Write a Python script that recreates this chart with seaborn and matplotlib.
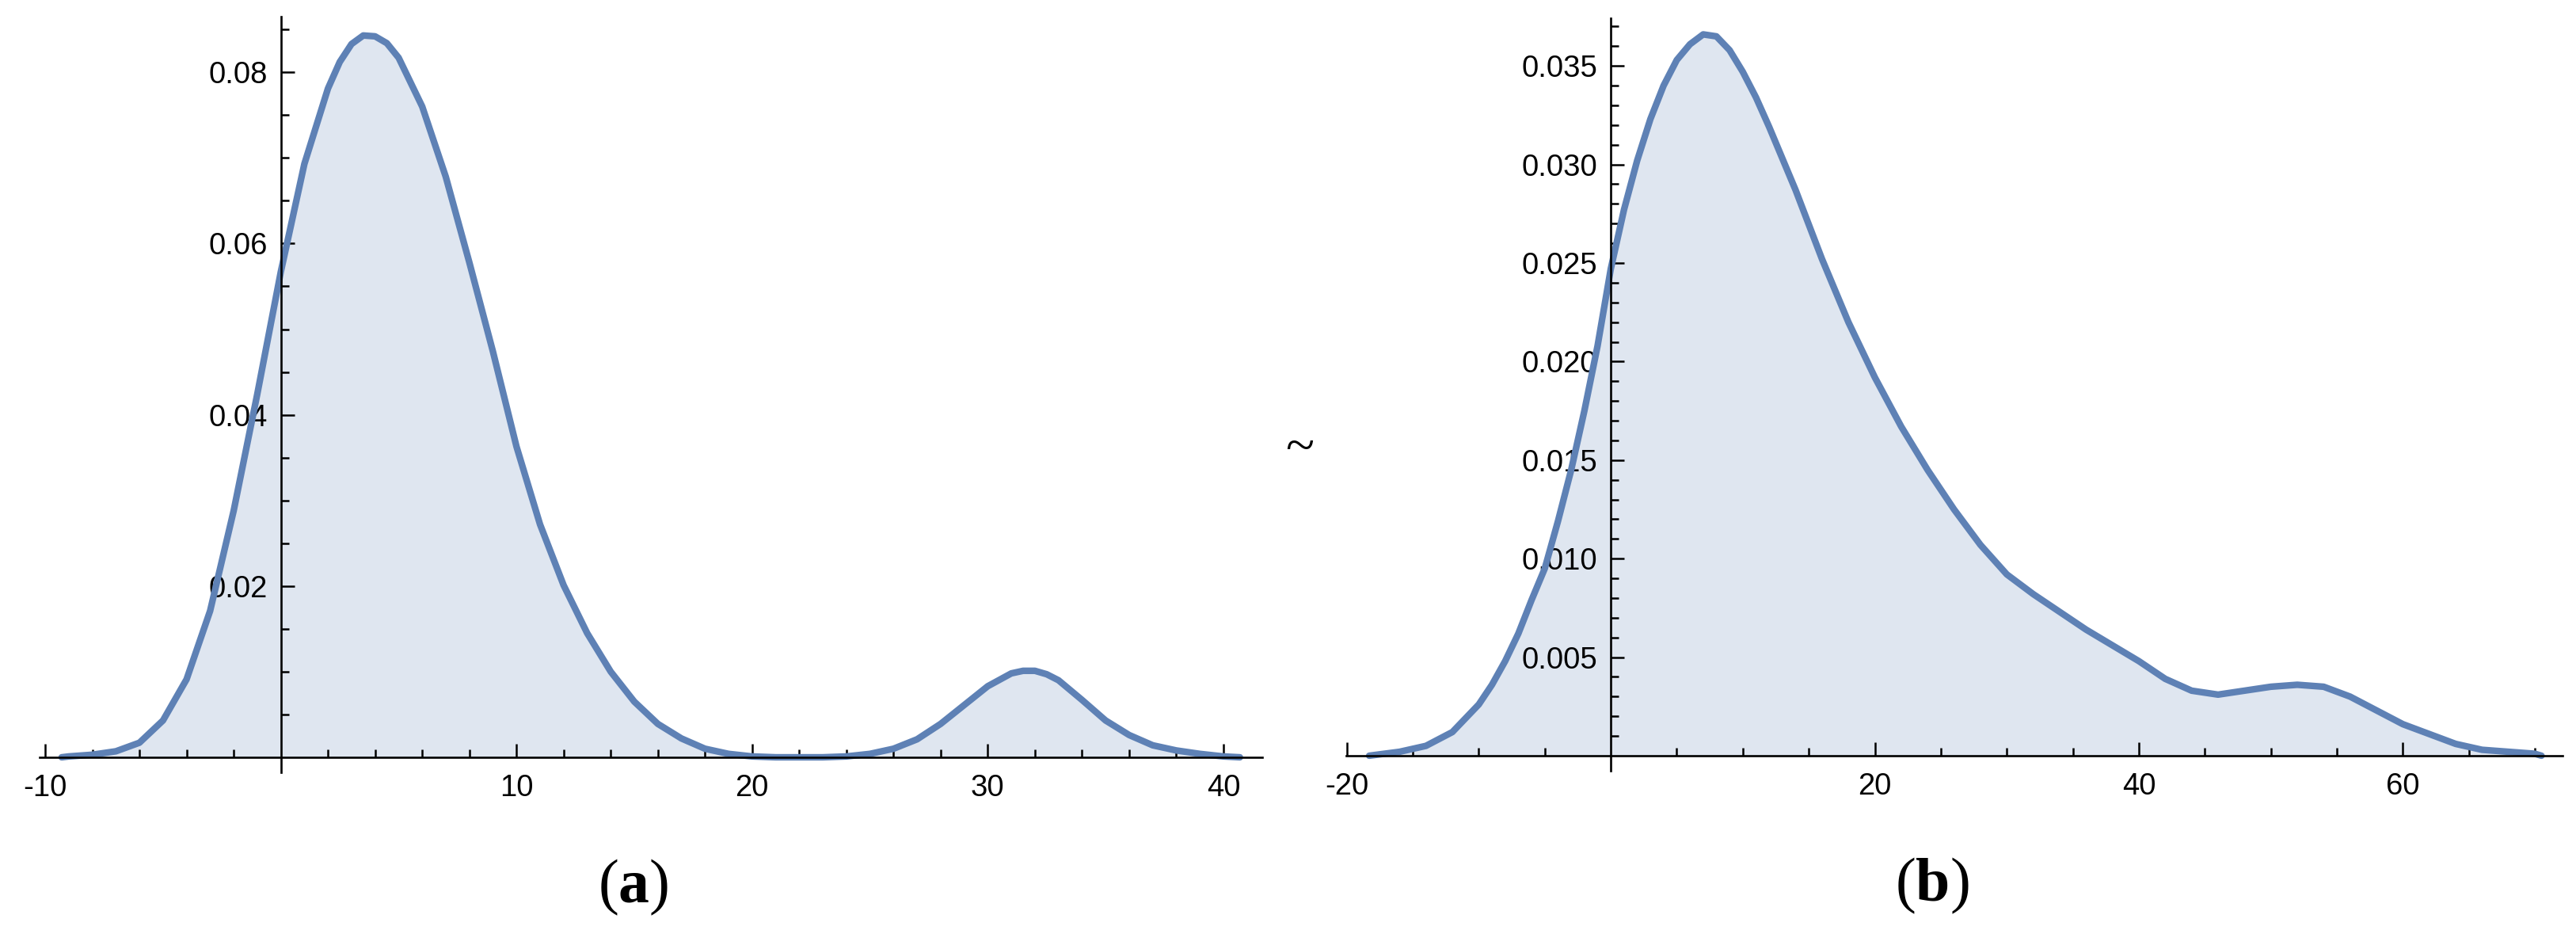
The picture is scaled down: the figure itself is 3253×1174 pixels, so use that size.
"""
Two smoothed density curves, drawn in the style of a Mathematica plot.
"""

import matplotlib
matplotlib.use("Agg")
import matplotlib.pyplot as plt
import seaborn as sns
import numpy as np


sns.set_theme(style="white")
plt.rcParams["font.family"] = ["Liberation Sans", "DejaVu Sans"]
plt.rcParams["mathtext.fontset"] = "custom"
plt.rcParams["mathtext.rm"] = "Liberation Serif"
plt.rcParams["mathtext.bf"] = "Liberation Serif:bold"
plt.rcParams["text.color"] = "black"

# panel (a) density
x_a = [-9.3, -9, -8, -7, -6, -5, -4, -3, -2, -1, 0, 1, 2, 2.5, 3, 3.5, 4, 4.5,
       5, 6, 7, 8, 9, 10, 11, 12, 13, 14, 15, 16, 17, 18, 19, 20, 21, 22, 23,
       24, 25, 26, 27, 28, 29, 30, 31, 31.5, 32, 32.5, 33, 34, 35, 36, 37, 38,
       39, 40, 40.7]
y_a = [0.0000, 0.0001, 0.0003, 0.0007, 0.0017, 0.0043, 0.0091, 0.0171, 0.0288,
       0.0424, 0.0567, 0.0693, 0.0781, 0.0812, 0.0833, 0.0843, 0.0842, 0.0834,
       0.0817, 0.0760, 0.0678, 0.0578, 0.0474, 0.0363, 0.0272, 0.0201, 0.0145,
       0.0100, 0.0065, 0.0039, 0.0022, 0.0010, 0.0004, 0.0001, 0.0000, 0.0000,
       0.0000, 0.0001, 0.0004, 0.0010, 0.0021, 0.0039, 0.0061, 0.0083, 0.0098,
       0.0101, 0.0101, 0.0097, 0.0090, 0.0067, 0.0043, 0.0026, 0.0014, 0.0008,
       0.0004, 0.0001, 0.0000]

# panel (b) density
x_b = [-18.3, -16, -14, -12, -10, -9, -8, -7, -6, -5, -4, -3, -2, -1, 0, 1, 2,
       3, 4, 5, 6, 7, 8, 9, 10, 11, 12, 14, 16, 18, 20, 22, 24, 26, 28, 30, 32,
       34, 36, 38, 40, 42, 44, 46, 48, 50, 52, 54, 56, 58, 60, 62, 64, 66, 68,
       70, 70.5]
y_b = [0.0000, 0.0002, 0.0005, 0.0012, 0.0026, 0.0036, 0.0048, 0.0062, 0.0079,
       0.0095, 0.0119, 0.0145, 0.0175, 0.0208, 0.0247, 0.0277, 0.0302, 0.0323,
       0.0340, 0.0353, 0.0361, 0.0366, 0.0365, 0.0358, 0.0347, 0.0334, 0.0319,
       0.0287, 0.0252, 0.0220, 0.0192, 0.0167, 0.0145, 0.0125, 0.0107, 0.0092,
       0.0082, 0.0073, 0.0064, 0.0056, 0.0048, 0.0039, 0.0033, 0.0031, 0.0033,
       0.0035, 0.0036, 0.0035, 0.0030, 0.0023, 0.0016, 0.0011, 0.0006, 0.0003,
       0.0002, 0.0001, 0.0000]

xticks_a = [-10, 10, 20, 30, 40]
yticks_a = [0.02, 0.04, 0.06, 0.08]
ylabels_a = ["0.02", "0.04", "0.06", "0.08"]
xticks_b = [-20, 20, 40, 60]
yticks_b = [0.005, 0.010, 0.015, 0.020, 0.025, 0.030, 0.035]
ylabels_b = ["0.005", "0.010", "0.015", "0.020", "0.025", "0.030", "0.035"]

LINE = "#5E81B5"
FILL = "#DFE6F0"


def draw_density(ax, x, y, xlim, ylim, xticks, xminor, yticks, ylabels, yminor):
    ax.set_axisbelow(False)
    ax.fill_between(x, y, 0, color=FILL, linewidth=0, zorder=1)
    sns.lineplot(x=x, y=y, ax=ax, color=LINE, linewidth=6.0, sort=False, zorder=2.8)
    ax.set_xlim(*xlim)
    ax.set_ylim(*ylim)
    ax.set_xlabel("")
    ax.set_ylabel("")
    for side in ["top", "right"]:
        ax.spines[side].set_visible(False)
    for side in ["left", "bottom"]:
        ax.spines[side].set_position(("data", 0))
        ax.spines[side].set_linewidth(1.9)
        ax.spines[side].set_color("black")
        ax.spines[side].set_zorder(3)
    ax.set_xticks(xticks, labels=[str(v) for v in xticks])
    ax.set_xticks(xminor, minor=True)
    ax.set_yticks(yticks, labels=ylabels)
    ax.set_yticks(yminor, minor=True)
    ax.tick_params(which="both", bottom=True, left=True, top=False, right=False)
    ax.tick_params(which="major", direction="in", length=12, width=1.8,
                   color="black", labelcolor="black", labelsize=27.5)
    ax.tick_params(which="minor", direction="in", length=7.2, width=1.8, color="black")
    ax.tick_params(axis="x", which="major", pad=15)
    ax.tick_params(axis="y", which="major", pad=12)
    ax.patch.set_alpha(0)


fig = plt.figure(figsize=(32.53, 11.74), dpi=100)
ax_a = fig.add_axes([0.01552, 0.16951, 0.4745, 0.8126])
ax_b = fig.add_axes([0.5226, 0.17087, 0.4722, 0.80954])

minor_a_x = [v for v in np.arange(-10, 41, 2) if v not in xticks_a and v != 0]
minor_a_y = [v for v in np.arange(0.005, 0.0851, 0.005) if min(abs(v - t) for t in yticks_a) > 1e-6]
draw_density(ax_a, x_a, y_a, (-10.22, 41.65), (-0.00176, 0.0865),
             xticks_a, minor_a_x, yticks_a, ylabels_a, minor_a_y)

minor_b_x = [v for v in np.arange(-20, 71, 5) if v not in xticks_b and v != 0]
minor_b_y = [v for v in np.arange(0.001, 0.0371, 0.001) if min(abs(v - t) for t in yticks_b) > 1e-6]
draw_density(ax_b, x_b, y_b, (-20.04, 72.1), (-0.00078, 0.03742),
             xticks_b, minor_b_x, yticks_b, ylabels_b, minor_b_y)

fig.text(800 / 3253, 1 - 1120 / 1174, r"$(\mathbf{a})$", fontsize=56, ha="center",
         va="center", color="black")
fig.text(2440 / 3253, 1 - 1118 / 1174, r"$(\mathbf{b})$", fontsize=56, ha="center",
         va="center", color="black")
fig.text(1641 / 3253, 1 - 568 / 1174, "~", fontsize=48, ha="center", va="center",
         color="black", family=["Liberation Serif", "DejaVu Serif"])

fig.savefig("out.png", dpi=100, facecolor="white")
